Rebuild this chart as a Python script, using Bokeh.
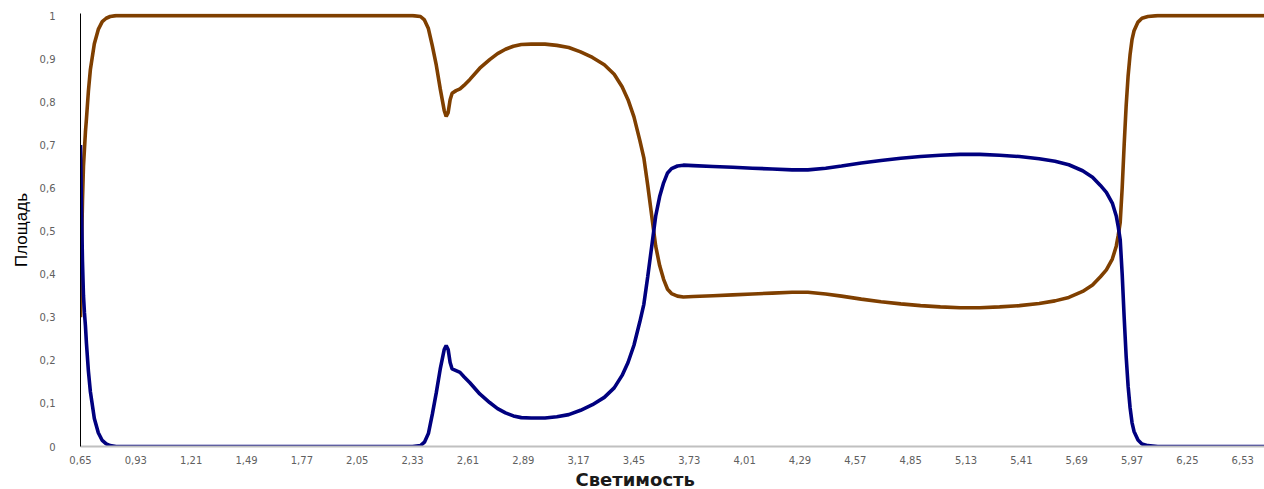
from bokeh.plotting import figure
from bokeh.models import FixedTicker, Range1d, Title
from bokeh.embed import file_html
from bokeh.resources import INLINE

# Data
svet = [0.65, 0.655, 0.66, 0.665, 0.67, 0.675, 0.68, 0.69, 0.70, 0.72, 0.74, 0.76, 0.78, 0.80, 0.83, 0.87,
        2.33, 2.37, 2.39, 2.41, 2.43, 2.45, 2.47, 2.49, 2.50, 2.51, 2.52, 2.53, 2.55, 2.57, 2.59, 2.62,
        2.67, 2.72, 2.76, 2.80, 2.84, 2.88, 2.93, 3.00, 3.06, 3.12, 3.18, 3.24, 3.30, 3.35, 3.39, 3.42,
        3.45, 3.48, 3.50, 3.52, 3.54, 3.56, 3.58, 3.60, 3.62, 3.64, 3.67, 3.70, 3.75, 3.85, 3.95, 4.05,
        4.15, 4.25, 4.33, 4.42, 4.50, 4.60, 4.70, 4.80, 4.90, 5.00, 5.10, 5.20, 5.30, 5.40, 5.50, 5.58,
        5.65, 5.72, 5.77, 5.81, 5.84, 5.87, 5.89, 5.90, 5.91, 5.92, 5.93, 5.94, 5.95, 5.96, 5.97, 5.98,
        6.00, 6.02, 6.05, 6.10, 6.64]

blue = [0.70, 0.55, 0.43, 0.35, 0.31, 0.28, 0.24, 0.175, 0.127, 0.065, 0.032, 0.014, 0.006, 0.002, 0.0, 0.0,
        0.0, 0.002, 0.01, 0.03, 0.075, 0.125, 0.18, 0.225, 0.234, 0.225, 0.195, 0.18, 0.176, 0.172, 0.162, 0.148,
        0.122, 0.102, 0.088, 0.078, 0.071, 0.067, 0.066, 0.066, 0.069, 0.074, 0.084, 0.097, 0.114, 0.136, 0.165, 0.195,
        0.235, 0.29, 0.33, 0.395, 0.465, 0.535, 0.58, 0.612, 0.635, 0.645, 0.651, 0.653, 0.652, 0.650, 0.648, 0.646,
        0.644, 0.642, 0.642, 0.646, 0.651, 0.658, 0.664, 0.669, 0.673, 0.676, 0.678, 0.678, 0.676, 0.673, 0.668, 0.662,
        0.654, 0.640, 0.625, 0.606, 0.59, 0.565, 0.535, 0.51, 0.48, 0.40, 0.30, 0.21, 0.14, 0.09, 0.055, 0.035,
        0.015, 0.006, 0.002, 0.0, 0.0]

brown = [0.30, 0.45, 0.57, 0.65, 0.69, 0.73, 0.76, 0.825, 0.875, 0.935, 0.968, 0.986, 0.994, 0.998, 1.0, 1.0,
         1.0, 0.998, 0.99, 0.97, 0.93, 0.885, 0.83, 0.78, 0.766, 0.775, 0.805, 0.82, 0.826, 0.83, 0.838, 0.852,
         0.878, 0.898, 0.912, 0.922, 0.929, 0.933, 0.934, 0.934, 0.931, 0.926, 0.916, 0.903, 0.886, 0.864, 0.835, 0.805,
         0.765, 0.71, 0.67, 0.605, 0.535, 0.465, 0.42, 0.388, 0.365, 0.355, 0.349, 0.347, 0.348, 0.350, 0.352, 0.354,
         0.356, 0.358, 0.358, 0.354, 0.349, 0.342, 0.336, 0.331, 0.327, 0.324, 0.322, 0.322, 0.324, 0.327, 0.332, 0.338,
         0.346, 0.360, 0.375, 0.394, 0.41, 0.435, 0.465, 0.49, 0.52, 0.60, 0.70, 0.79, 0.86, 0.91, 0.945, 0.965,
         0.985, 0.994, 0.998, 1.0, 1.0]

x_tick_labels = ["0,65", "0,93", "1,21", "1,49", "1,77", "2,05", "2,33", "2,61", "2,89", "3,17", "3,45",
                 "3,73", "4,01", "4,29", "4,57", "4,85", "5,13", "5,41", "5,69", "5,97", "6,25", "6,53"]
y_tick_labels = ["0", "0,1", "0,2", "0,3", "0,4", "0,5", "0,6", "0,7", "0,8", "0,9", "1"]

x_title = "Светимость"
y_title = "Площадь"

x_ticks = [float(s.replace(",", ".")) for s in x_tick_labels]
y_ticks = [float(s.replace(",", ".")) for s in y_tick_labels]

p = figure(width=1264, height=489, output_backend="svg", toolbar_location=None,
           x_range=Range1d(0.65, 6.64), y_range=Range1d(0, 1.005),
           min_border_left=80, min_border_right=0, min_border_top=13, min_border_bottom=10)

p.line(svet, brown, line_color="#7f3f00", line_width=3.6)
p.line(svet, blue, line_color="#00007f", line_width=3.6)

p.grid.visible = False
p.outline_line_color = None
p.background_fill_color = "white"
p.border_fill_color = "white"

xa = p.xaxis[0]
xa.ticker = FixedTicker(ticks=x_ticks)
xa.major_label_overrides = {t: s for t, s in zip(x_ticks, x_tick_labels)}
xa.axis_line_color = "#c0c0c0"
xa.axis_line_width = 2
xa.major_tick_line_color = None
xa.minor_tick_line_color = None
xa.major_label_text_font = "DejaVu Sans"
xa.major_label_text_font_size = "10px"
xa.major_label_text_color = "#606060"
xa.major_label_standoff = 3

ya = p.yaxis[0]
ya.ticker = FixedTicker(ticks=y_ticks)
ya.major_label_overrides = {t: s for t, s in zip(y_ticks, y_tick_labels)}
ya.axis_line_color = "black"
ya.axis_line_width = 1
ya.major_tick_line_color = None
ya.minor_tick_line_color = None
ya.major_label_text_font = "DejaVu Sans"
ya.major_label_text_font_size = "10px"
ya.major_label_text_color = "#606060"
ya.major_label_standoff = 19
ya.axis_label = y_title
ya.axis_label_text_font = "Liberation Sans"
ya.axis_label_text_font_size = "17px"
ya.axis_label_text_font_style = "normal"
ya.axis_label_text_color = "black"
ya.axis_label_standoff = 6

xt = Title(text=x_title, align="left", offset=495, standoff=0,
           text_font="DejaVu Sans", text_font_size="18px", text_font_style="bold",
           text_color="#1a1a1a")
p.add_layout(xt, "below")

open("out.html", "w").write(file_html(p, INLINE))
